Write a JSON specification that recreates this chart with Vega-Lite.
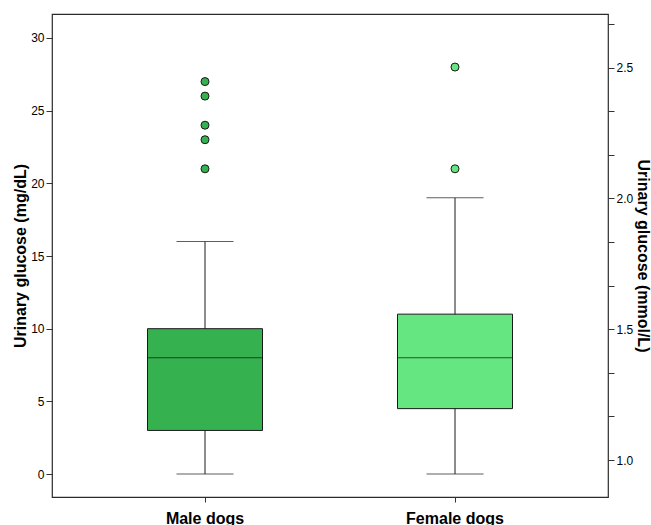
{
  "$schema": "https://vega.github.io/schema/vega-lite/v6.json",
  "width": 556,
  "height": 483,
  "autosize": "none",
  "padding": {"left": 52, "top": 14, "right": 43, "bottom": 28},
  "config": {
    "view": {"stroke": "#2b2b2b", "strokeWidth": 1.2},
    "font": "Liberation Sans",
    "axis": {"grid": false, "domain": false, "tickColor": "#333", "labelColor": "#000", "titleColor": "#000", "labelFont": "Liberation Sans", "titleFont": "Liberation Sans"}
  },
  "datasets": {
    "boxes": [
      {"group": "Male dogs", "lower": 0, "q1": 3, "median": 8, "q3": 10, "upper": 16},
      {"group": "Female dogs", "lower": 0, "q1": 4.5, "median": 8, "q3": 11, "upper": 19}
    ],
    "outliers": [
      {"group": "Male dogs", "value": 21},
      {"group": "Male dogs", "value": 23},
      {"group": "Male dogs", "value": 24},
      {"group": "Male dogs", "value": 26},
      {"group": "Male dogs", "value": 27},
      {"group": "Female dogs", "value": 21},
      {"group": "Female dogs", "value": 28}
    ]
  },
  "encoding": {
    "x": {
      "field": "group",
      "type": "nominal",
      "sort": ["Male dogs", "Female dogs"],
      "scale": {"domain": ["Male dogs", "Female dogs"], "paddingOuter": 0.112, "paddingInner": 0},
      "axis": {"title": null, "labelAngle": 0, "labelFontSize": 16, "labelFontWeight": "bold", "tickSize": 5, "labelPadding": 8}
    }
  },
  "layer": [
    {
      "data": {"name": "boxes"},
      "mark": {"type": "rule", "color": "#1a1a1a", "strokeWidth": 1},
      "encoding": {
        "y": {
          "field": "lower", "type": "quantitative",
          "scale": {"domain": [-1.58, 31.65], "nice": false, "zero": false},
          "axis": {"orient": "left", "values": [0, 5, 10, 15, 20, 25, 30], "tickSize": 6, "labelFontSize": 12, "labelPadding": 2, "title": "Urinary glucose (mg/dL)", "titleFontSize": 16, "titleFontWeight": "bold", "titlePadding": 2}
        },
        "y2": {"field": "upper"}
      }
    },
    {
      "data": {"name": "boxes"},
      "mark": {"type": "tick", "color": "#1a1a1a", "size": 57, "thickness": 1},
      "encoding": {
        "y": {"field": "lower", "type": "quantitative", "scale": {"domain": [-1.58, 31.65], "nice": false, "zero": false}, "axis": null}
      }
    },
    {
      "data": {"name": "boxes"},
      "mark": {"type": "tick", "color": "#1a1a1a", "size": 57, "thickness": 1},
      "encoding": {
        "y": {"field": "upper", "type": "quantitative", "scale": {"domain": [-1.58, 31.65], "nice": false, "zero": false}, "axis": null}
      }
    },
    {
      "data": {"name": "boxes"},
      "mark": {"type": "bar", "width": {"band": 0.46}, "stroke": "#1a1a1a", "strokeWidth": 1},
      "encoding": {
        "y": {"field": "q1", "type": "quantitative", "scale": {"domain": [-1.58, 31.65], "nice": false, "zero": false}, "axis": null},
        "y2": {"field": "q3"},
        "fill": {"field": "group", "type": "nominal", "scale": {"domain": ["Male dogs", "Female dogs"], "range": ["#35b24f", "#66e680"]}, "legend": null}
      }
    },
    {
      "data": {"name": "boxes"},
      "mark": {"type": "tick", "color": "#111", "size": 115, "thickness": 1},
      "encoding": {
        "y": {"field": "median", "type": "quantitative", "scale": {"domain": [-1.58, 31.65], "nice": false, "zero": false}, "axis": null}
      }
    },
    {
      "data": {"name": "outliers"},
      "mark": {"type": "point", "filled": true, "stroke": "#1a1a1a", "strokeWidth": 1, "size": 64, "opacity": 1},
      "encoding": {
        "y": {
          "field": "value", "type": "quantitative",
          "scale": {"domain": [-1.58, 31.65], "nice": false, "zero": false},
          "axis": {
            "orient": "right",
            "values": [0.963, 3.963, 6.963, 9.963, 12.963, 15.963, 18.963, 21.963, 24.963, 27.963, 30.963],
            "labelExpr": "abs(((datum.value-0.963)/18+1)*2 - round(((datum.value-0.963)/18+1)*2)) < 0.01 ? format((datum.value-0.963)/18+1, '.1f') : ''",
            "tickSize": 6, "labelFontSize": 12, "labelPadding": 2,
            "title": "Urinary glucose (mmol/L)", "titleFontSize": 16, "titleFontWeight": "bold", "titlePadding": 2
          }
        },
        "fill": {"field": "group", "type": "nominal", "scale": {"domain": ["Male dogs", "Female dogs"], "range": ["#35b24f", "#66e680"]}, "legend": null}
      }
    }
  ],
  "resolve": {"axis": {"y": "independent"}}
}
